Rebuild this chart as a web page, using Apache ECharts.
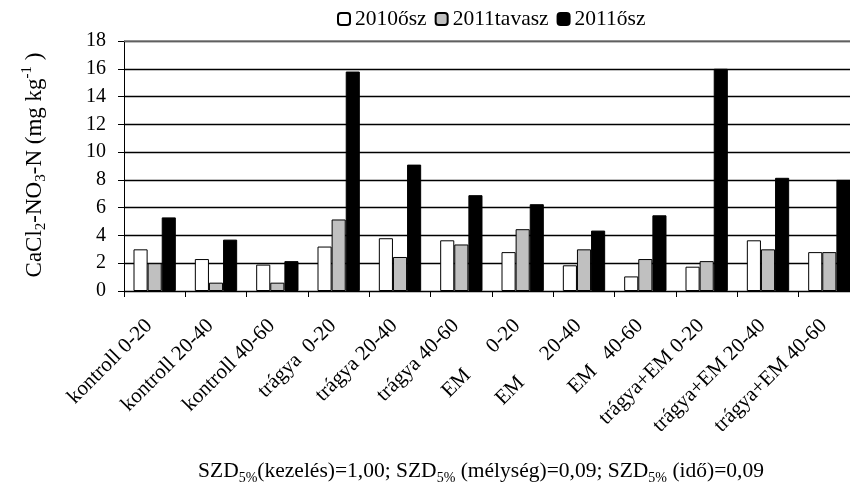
<!DOCTYPE html>
<html><head><meta charset="utf-8">
<script src="https://cdn.jsdelivr.net/npm/echarts@6/dist/echarts.min.js"></script>
<style>html,body{margin:0;padding:0;background:#fff;overflow:hidden;width:850px;height:493px}#c{width:860px;height:493px}</style>
</head><body><div id="c"></div>
<script>
var categories = ['kontroll 0-20','kontroll 20-40','kontroll 40-60','trágya  0-20','trágya 20-40','trágya 40-60','EM      0-20','EM      20-40','EM   40-60','trágya+EM 0-20','trágya+EM 20-40','trágya+EM 40-60'];
var seriesNames = ['2010ősz','2011tavasz','2011ősz'];
var s2010osz = [3.0, 2.3, 1.9, 3.2, 3.8, 3.65, 2.8, 1.85, 1.05, 1.75, 3.65, 2.8];
var s2011tavasz = [2.0, 0.6, 0.6, 5.15, 2.45, 3.35, 4.45, 3.0, 2.3, 2.15, 3.0, 2.8];
var s2011osz = [5.3, 3.7, 2.15, 15.8, 9.1, 6.9, 6.25, 4.35, 5.45, 16.0, 8.15, 8.0];
var yMin = 0, yMax = 18, yStep = 2;

var font = '"Liberation Serif","Times New Roman",serif';
var chart = echarts.init(document.getElementById('c'));
var colors = ['#ffffff','#c0c0c0','#000000'];
var data = [s2010osz, s2011tavasz, s2011osz];
chart.setOption({
  animation:false,
  backgroundColor:'#fff',
  textStyle:{fontFamily:font},
  legend:{top:3,left:332,itemWidth:12,itemHeight:12,itemGap:8,
    textStyle:{fontFamily:font,fontSize:21.5,color:'#000'},
    data:seriesNames},
  grid:{left:124,top:41,bottom:202,right:0},
  xAxis:{type:'category',data:categories,
    axisLine:{lineStyle:{color:'#000',width:1}},
    axisTick:{show:true,length:6,lineStyle:{color:'#000'}},
    axisLabel:{rotate:45,fontFamily:font,fontSize:21,color:'#000',margin:26,padding:[0,8,0,0],interval:0}},
  yAxis:{type:'value',min:yMin,max:yMax,interval:yStep,
    axisLine:{show:true,lineStyle:{color:'#000',width:1}},
    axisTick:{show:true,inside:false,length:6,lineStyle:{color:'#000'}},
    axisLabel:{fontFamily:font,fontSize:20,color:'#000',margin:18},
    splitLine:{show:true,lineStyle:{color:'#000',width:1.3}}},
  series:seriesNames.map(function(n,i){var s={name:n,type:'bar',data:data[i],
    barGap:'0%',barCategoryGap:'31%',
    itemStyle:{color:colors[i],borderColor:'#000',borderWidth:1}};
    if(i===0){s.markLine={silent:true,symbol:'none',label:{show:false},
      lineStyle:{color:'#808080',width:1.5,type:'solid'},data:[{yAxis:yMax}]};}
    return s;}),
  graphic:[
    {type:'text',x:33,y:165,rotation:Math.PI/2,
      style:{text:'{a|CaCl}{s|2}{a|-NO}{s|3}{a|-N (mg kg}{p|-1}{a| )}',
        rich:{a:{fontFamily:font,fontSize:23,color:'#000',lineHeight:26,verticalAlign:'bottom'},
              s:{fontFamily:font,fontSize:15,color:'#000',lineHeight:26,verticalAlign:'bottom',padding:[0,0,-3,0]},
              p:{fontFamily:font,fontSize:15,color:'#000',lineHeight:26,verticalAlign:'top'}},
        align:'center',verticalAlign:'middle'}},
    {type:'text',x:481,y:470,
      style:{text:'{a|SZD}{s|5%}{a|(kezelés)=1,00; SZD}{s|5%}{a| (mélység)=0,09; SZD}{s|5%}{a| (idő)=0,09}',
        rich:{a:{fontFamily:font,fontSize:21.5,color:'#000',lineHeight:24,verticalAlign:'bottom'},
              s:{fontFamily:font,fontSize:14,color:'#000',lineHeight:24,verticalAlign:'bottom',padding:[0,0,-3,0]}},
        align:'center',verticalAlign:'middle'}}
  ]
});
</script></body></html>
